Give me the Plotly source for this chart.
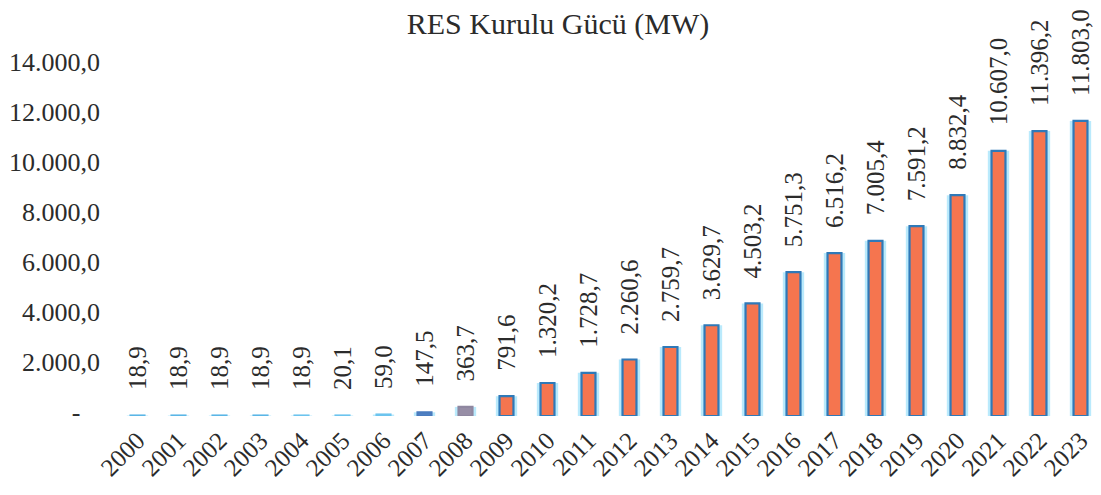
import plotly.graph_objects as go

years = [str(y) for y in range(2000, 2024)]
capacity_mw = [18.9, 18.9, 18.9, 18.9, 18.9, 20.1, 59.0, 147.5, 363.7, 791.6,
               1320.2, 1728.7, 2260.6, 2759.7, 3629.7, 4503.2, 5751.3, 6516.2,
               7005.4, 7591.2, 8832.4, 10607.0, 11396.2, 11803.0]
y_tick_vals = [0, 2000, 4000, 6000, 8000, 10000, 12000, 14000]
y_tick_text = ["-\u00a0\u00a0\u00a0", "2.000,0", "4.000,0", "6.000,0", "8.000,0",
               "10.000,0", "12.000,0", "14.000,0"]

def tr_fmt(v):
    s = f"{v:,.1f}"
    return s.replace(",", "X").replace(".", ",").replace("X", ".")

fill_colors = (["#6EC3EC"] * 4 + ["#8FD3F2"] * 3 + ["#4F80C2", "#978EA6"]
               + ["#F5754F"] * 15)
line_colors = (["#5AB6E6"] * 4 + ["#6CC4EE"] * 3 + ["#4A7BBE", "#8F87A0"]
               + ["#2F79B8"] * 15)

font_family = "Liberation Serif, Times New Roman, serif"

# the page body adds an 8px margin; the figure is sized to fill the rest
W, H = 1101 - 8, 495 - 8

fig = go.Figure()
# soft halo behind the bars
fig.add_trace(go.Bar(
    x=years, y=capacity_mw, width=0.52,
    marker=dict(color="rgba(140,220,250,0.6)", line=dict(width=0)),
    hoverinfo="skip", showlegend=False,
))
fig.add_trace(go.Bar(
    x=years, y=capacity_mw, width=0.34,
    marker=dict(color=fill_colors, line=dict(color=line_colors, width=2.2)),
    showlegend=False,
))

for i, v in enumerate(capacity_mw):
    fig.add_annotation(
        x=i, y=v, xref="x", yref="y", text=tr_fmt(v), textangle=-90,
        showarrow=False, yanchor="bottom", xanchor="center", yshift=23,
        font=dict(family=font_family, size=25, color="#2b2b2b"),
    )

fig.update_layout(
    width=W, height=H,
    margin=dict(l=109, r=0, t=58, b=79),
    paper_bgcolor="white", plot_bgcolor="white",
    barmode="overlay",
    title=dict(text="RES Kurulu Gücü (MW)", x=(558 - 8) / W, xanchor="center",
               y=1 - 15 / H, yref="container", yanchor="middle",
               font=dict(family=font_family, size=30, color="#2b2b2b")),
    font=dict(family=font_family, color="#2b2b2b"),
)
fig.update_xaxes(
    type="category", tickangle=-45, showgrid=False, showline=False,
    ticks="", tickfont=dict(family=font_family, size=25, color="#2b2b2b"),
    ticklabelstandoff=4, range=[-0.5, 23.5],
)
fig.update_yaxes(
    range=[0, 14000], tickvals=y_tick_vals, ticktext=y_tick_text,
    showgrid=False, showline=False, zeroline=False, ticks="",
    tickfont=dict(family=font_family, size=26, color="#2b2b2b"),
    ticklabelstandoff=16, ticklabelshift=-4,
)

fig.write_html("out.html")
